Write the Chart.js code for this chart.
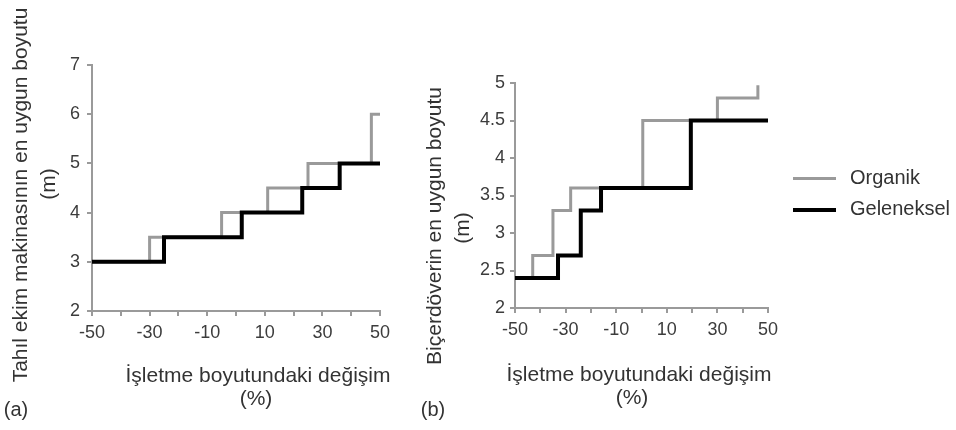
<!DOCTYPE html>
<html lang="tr">
<head>
<meta charset="utf-8">
<script src="https://cdn.jsdelivr.net/npm/chart.js@4.4.1/dist/chart.umd.min.js"></script>
<style>
  html, body { margin: 0; padding: 0; background: #fff; }
  body { width: 956px; height: 430px; position: relative; overflow: hidden;
         font-family: "Liberation Sans", Arial, sans-serif; color: #333; }
  .painel { position: absolute; top: 0; height: 430px; }
  .txt { position: absolute; white-space: nowrap; font-size: 20px; line-height: 1; color: #333; }
  .rot { transform: translate(-50%, -50%) rotate(-90deg); }
  .cen { transform: translate(-50%, -50%); }
  .leg { position: absolute; font-size: 20px; color: #333; }
  .leg div { position: absolute; white-space: nowrap; }
  .leg span { display: inline-block; width: 43px; vertical-align: middle; margin-right: 14px; }
</style>
</head>
<body>

<div class="painel" id="boxA" style="left:0; width:400px;"><canvas id="graficoA"></canvas></div>
<div class="painel" id="boxB" style="left:420px; width:380px;"><canvas id="graficoB"></canvas></div>

<div class="txt rot" style="left:19px; top:195px; font-size:21px;">Tahıl ekim makinasının en uygun boyutu</div>
<div class="txt rot" style="left:47px; top:184px; font-size:21px;">(m)</div>
<div class="txt cen" style="left:258px; top:374px; font-size:21px;">İşletme boyutundaki değişim</div>
<div class="txt cen" style="left:256px; top:397px; font-size:21px;">(%)</div>
<div class="txt cen" style="left:16px; top:409px;">(a)</div>

<div class="txt rot" style="left:433px; top:226px; font-size:21px;">Biçerdöverin en uygun boyutu</div>
<div class="txt rot" style="left:461px; top:228px; font-size:21px;">(m)</div>
<div class="txt cen" style="left:639px; top:373px; font-size:21px;">İşletme boyutundaki değişim</div>
<div class="txt cen" style="left:632px; top:396px; font-size:21px;">(%)</div>
<div class="txt cen" style="left:433px; top:409px;">(b)</div>

<div class="leg" id="legenda" style="left:793px; top:166px;"></div>

<script>
// eixo x comum aos dois gráficos
const mudancaMin = -50;
const mudancaMax = 50;

// (a) Tahıl ekim makinası: x onde termina cada degrau, valor do degrau seguinte
const organikA_x = [-50, -30, -5, 11, 25, 47, 50];
const organikA_y = [3, 3.5, 4, 4.5, 5, 6, 6];
const geleneksel_A_x = [-50, -25, 2, 23, 36, 50];
const geleneksel_A_y = [3, 3.5, 4, 4.5, 5, 5];

// (b) Biçerdöver
const organikB_x = [-50, -43, -35, -28, 0.5, 30, 46];
const organikB_y = [2.4, 2.7, 3.3, 3.6, 4.5, 4.8, 4.97];
const geleneksel_B_x = [-50, -33, -24, -16, 19.5, 50];
const geleneksel_B_y = [2.4, 2.7, 3.3, 3.6, 4.5, 4.5];

const series = ['Organik', 'Geleneksel'];
const cores = ['#9a9a9a', '#000000'];
const espessuras = [3, 4];

const fonte = '"Liberation Sans", Arial, sans-serif';

function pontos(xs, ys) {
  return xs.map((x, i) => ({ x: x, y: ys[i] }));
}

function criarGrafico(id, dadosOrg, dadosGel, eixoY, caixa) {
  const ctx = document.getElementById(id).getContext('2d');
  return new Chart(ctx, {
    type: 'line',
    data: {
      datasets: [
        { label: series[0], data: dadosOrg, borderColor: cores[0], borderWidth: espessuras[0],
          stepped: 'before', pointRadius: 0, fill: false, order: 1 },
        { label: series[1], data: dadosGel, borderColor: cores[1], borderWidth: espessuras[1],
          stepped: 'before', pointRadius: 0, fill: false, order: 0 }
      ]
    },
    options: {
      responsive: true,
      maintainAspectRatio: false,
      animation: false,
      layout: { padding: { top: caixa.topo, right: caixa.direita, left: 0, bottom: 0 } },
      plugins: { legend: { display: false }, tooltip: { enabled: false } },
      scales: {
        x: {
          type: 'linear',
          min: mudancaMin,
          max: mudancaMax,
          afterFit: (scale) => { scale.height = caixa.alturaX; },
          border: { color: '#9a9a9a', width: 2 },
          grid: { drawOnChartArea: false, drawTicks: true, tickLength: 5, color: '#9a9a9a', lineWidth: 2 },
          ticks: {
            stepSize: 10,
            autoSkip: false,
            maxRotation: 0,
            padding: 6,
            color: '#3c3c3c',
            font: { family: fonte, size: 18 },
            callback: (v) => ((v - mudancaMin) % 20 === 0 ? String(v) : '')
          }
        },
        y: {
          min: eixoY.min,
          max: eixoY.max,
          afterFit: (scale) => { scale.width = caixa.larguraY; },
          border: { color: '#9a9a9a', width: 2 },
          grid: { drawOnChartArea: false, drawTicks: true, tickLength: 5, color: '#9a9a9a', lineWidth: 2 },
          ticks: {
            stepSize: eixoY.passo,
            padding: caixa.padY,
            color: '#3c3c3c',
            font: { family: fonte, size: 18 },
            callback: (v) => String(v)
          }
        }
      }
    }
  });
}

function montarLegenda() {
  const leg = document.getElementById('legenda');
  series.forEach((nome, i) => {
    const linha = document.createElement('div');
    linha.style.top = (i * 31) + 'px';
    const traco = document.createElement('span');
    traco.style.borderTop = espessuras[i] + 'px solid ' + cores[i];
    linha.appendChild(traco);
    linha.appendChild(document.createTextNode(nome));
    leg.appendChild(linha);
  });
}

criarGrafico('graficoA',
  pontos(organikA_x, organikA_y), pontos(geleneksel_A_x, geleneksel_A_y),
  { min: 2, max: 7, passo: 1 },
  { topo: 65, direita: 20, alturaX: 119, larguraY: 92, padY: 7 });

criarGrafico('graficoB',
  pontos(organikB_x, organikB_y), pontos(geleneksel_B_x, geleneksel_B_y),
  { min: 2, max: 5, passo: 0.5 },
  { topo: 83, direita: 32, alturaX: 122, larguraY: 95, padY: 5 });

montarLegenda();
</script>
</body>
</html>
